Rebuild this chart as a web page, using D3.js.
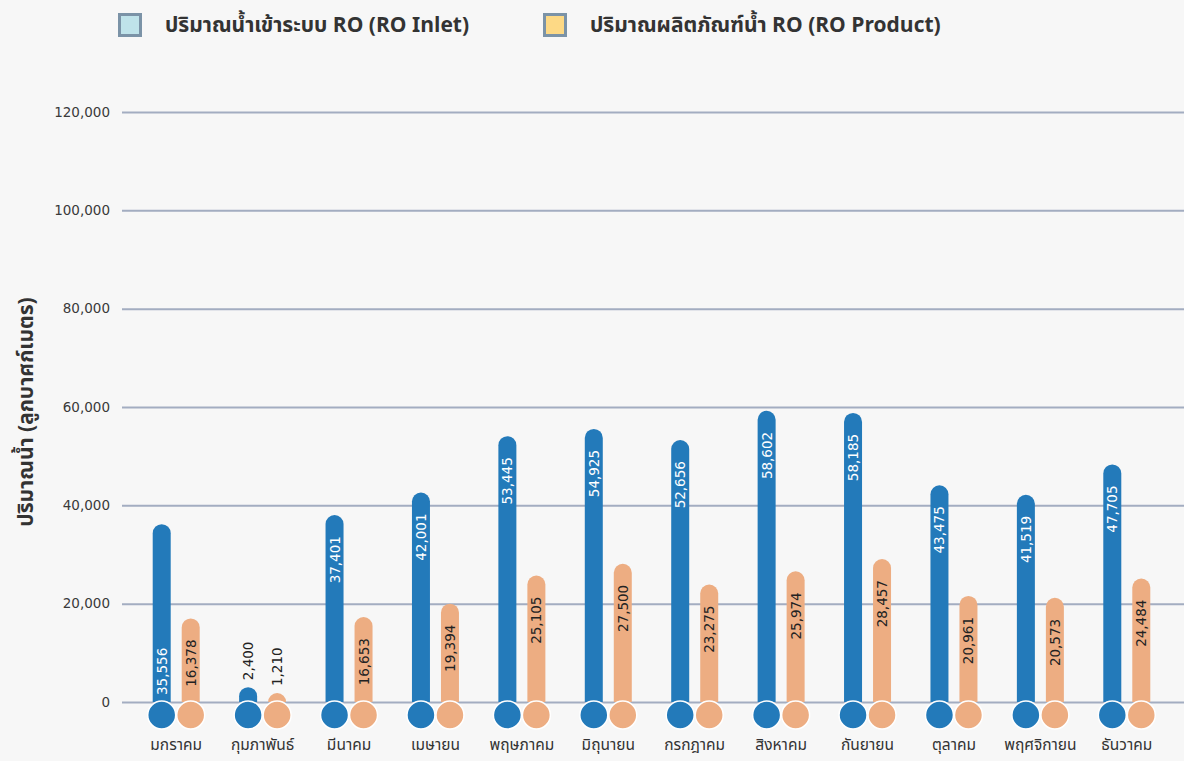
<!DOCTYPE html>
<html>
<head>
<meta charset="utf-8">
<script src="https://cdn.jsdelivr.net/npm/d3@7"></script>
<style>
  html, body { margin: 0; padding: 0; background: #f7f7f7; }
  svg { display: block; }
  text { font-family: "Noto Sans Thai", "Noto Sans Thai UI", Tahoma, "DejaVu Sans", "Noto Sans", sans-serif; }
</style>
</head>
<body>
<svg id="chart" width="1184" height="761"></svg>
<script>
// Monthly RO water volumes (cubic metres)
const months = ["มกราคม", "กุมภาพันธ์", "มีนาคม", "เมษายน", "พฤษภาคม", "มิถุนายน",
                "กรกฎาคม", "สิงหาคม", "กันยายน", "ตุลาคม", "พฤศจิกายน", "ธันวาคม"];
const roInlet   = [35556, 2400, 37401, 42001, 53445, 54925, 52656, 58602, 58185, 43475, 41519, 47705];
const roProduct = [16378, 1210, 16653, 19394, 25105, 27500, 23275, 25974, 28457, 20961, 20573, 24484];
const yTicks = [0, 20000, 40000, 60000, 80000, 100000, 120000];
const seriesNames = ["ปริมาณน้ำเข้าระบบ RO (RO Inlet)", "ปริมาณผลิตภัณฑ์น้ำ RO (RO Product)"];

const barColors = ["#237aba", "#edad82"];
const legendColors = ["#bfe3ea", "#fdd985"];

const svg = d3.select("#chart");
const fmt = d3.format(",");

const y = d3.scaleLinear().domain([0, 120000]).range([702, 112]);
const x = d3.scaleBand().domain(months).range([133, 1170]);
const xs = d3.scaleBand().domain([0, 1]).range([-29, 29]);

// grid lines + tick labels
const yAxis = d3.axisLeft(y).tickValues(yTicks).tickFormat(fmt).tickSize(-(1184 - 122)).tickPadding(12);
const gy = svg.append("g").attr("transform", "translate(122,0)").call(yAxis);
gy.select(".domain").remove();
gy.selectAll(".tick line").attr("stroke", "#a3adc1").attr("stroke-width", 2);
gy.selectAll(".tick text").attr("fill", "#3a3a3a").style("font-family", "Tahoma, 'DejaVu Sans', sans-serif").style("font-size", "13.5px");

// y title
svg.append("text")
  .attr("transform", "translate(33,412) rotate(-90)")
  .attr("text-anchor", "middle")
  .style("font-size", "21px").style("font-weight", "bold").attr("fill", "#333")
  .text("ปริมาณน้ำ (ลูกบาศก์เมตร)");

const data = months.map((m, i) => ({ m, vals: [roInlet[i], roProduct[i]] }));
const barW = 18;

const groups = svg.append("g").selectAll("g").data(data).join("g")
  .attr("transform", d => `translate(${x(d.m) + x.bandwidth() / 2},0)`);

const items = groups.selectAll("g.s").data(d => d.vals.map((v, k) => ({ v, k, m: d.m })))
  .join("g").attr("class", "s")
  .attr("transform", d => `translate(${xs(d.k) + xs.bandwidth() / 2},0)`);

// rounded-top bars (cap sits just above the value)
items.append("path")
  .attr("fill", d => barColors[d.k])
  .attr("d", d => {
    const r = barW / 2, bot = y(0);
    const top = y(d.v) - 3;
    return `M${-r},${bot} L${-r},${top + r} A${r},${r} 0 0 1 ${r},${top + r} L${r},${bot} Z`;
  });

// base circles
items.append("circle")
  .attr("cx", 0).attr("cy", y(0) + 13).attr("r", 14)
  .attr("fill", d => barColors[d.k])
  .attr("stroke", "#ffffff").attr("stroke-width", 1.5);

// value labels
const atBase = d => d.m === months[0] && d.k === 0;
items.append("text")
  .attr("transform", d => {
    let ty;
    if (d.v < 5000) ty = y(d.v) - 10;
    else if (atBase(d)) ty = y(0) - 7;
    else ty = y(d.v) + 18;
    return `translate(5,${ty}) rotate(-90)`;
  })
  .attr("text-anchor", d => (d.v < 5000 || atBase(d)) ? "start" : "end")
  .style("font-family", "Tahoma, 'DejaVu Sans', sans-serif")
  .style("font-size", "13.5px")
  .attr("fill", d => (d.k === 0 && d.v >= 5000) ? "#ffffff" : "#222")
  .text(d => fmt(d.v));

// month labels
svg.append("g").selectAll("text").data(months).join("text")
  .attr("x", d => x(d) + x.bandwidth() / 2).attr("y", 750)
  .attr("text-anchor", "middle")
  .style("font-size", "15.5px").attr("fill", "#333")
  .text(d => d);

// legend
const legendX = [118, 543];
const leg = svg.append("g").selectAll("g").data(seriesNames).join("g")
  .attr("transform", (d, i) => `translate(${legendX[i]},13)`);
leg.append("rect").attr("x", 1.5).attr("y", 1.5).attr("width", 21).attr("height", 21)
  .attr("fill", (d, i) => legendColors[i]).attr("stroke", "#7b93a7").attr("stroke-width", 3);
leg.append("text").attr("x", 47).attr("y", 19)
  .style("font-size", "21px").style("font-weight", "bold").attr("fill", "#333")
  .text(d => d);
</script>
</body>
</html>
